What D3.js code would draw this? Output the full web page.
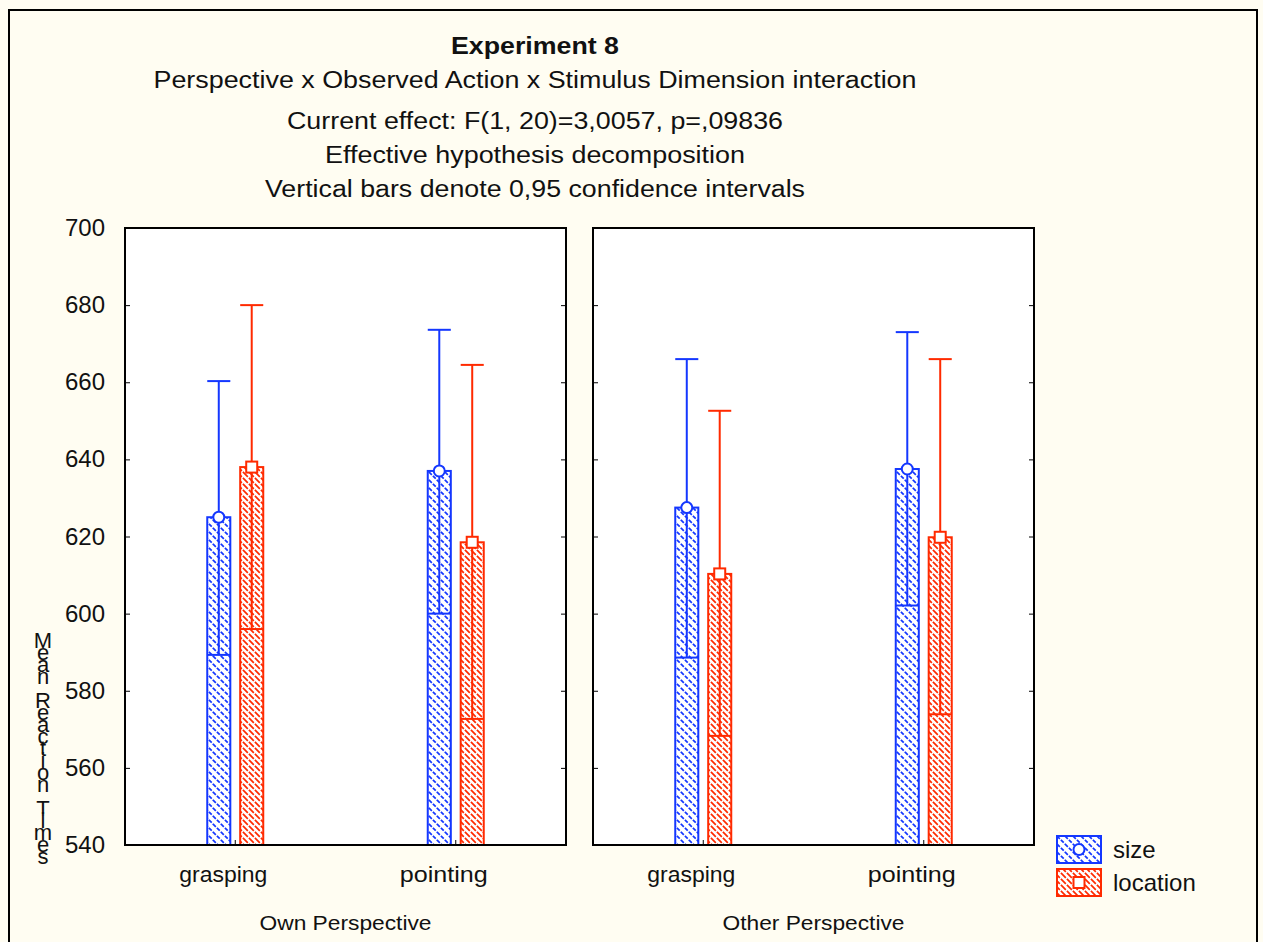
<!DOCTYPE html>
<html>
<head>
<meta charset="utf-8">
<script src="https://cdn.jsdelivr.net/npm/d3@7"></script>
<style>
  body { margin: 0; background: #fffdf2; }
  text { font-family: "Liberation Sans", Arial, sans-serif; fill: #111; }
</style>
</head>
<body>
<svg id="chart"></svg>
<script>
// panels, groups and series
const perspectives = ["Own Perspective", "Other Perspective"];
const actions = ["grasping", "pointing"];
const dimensions = ["size", "location"];

// values per cell, order: own-grasping, own-pointing, other-grasping, other-pointing
const sizeMean = [625.0, 637.0, 627.5, 637.5];
const sizeLower = [589.3, 600.0, 588.6, 602.1];
const sizeUpper = [660.3, 673.6, 666.0, 673.0];
const locationMean = [638.0, 618.5, 610.3, 619.8];
const locationLower = [596.0, 572.7, 568.3, 573.9];
const locationUpper = [680.0, 664.5, 652.6, 666.0];

const yTicks = [540, 560, 580, 600, 620, 640, 660, 680, 700];

const titleLines = [
    "Experiment 8",
    "Perspective x Observed Action x Stimulus Dimension interaction",
    "Current effect: F(1, 20)=3,0057, p=,09836",
    "Effective hypothesis decomposition",
    "Vertical bars denote 0,95 confidence intervals"
];
const yTitle = "Mean Reaction Times";

const blue = "#1437ff";
const red = "#ff2a00";
const colors = { size: blue, location: red };

const width = 1263, height = 942;
const svg = d3.select("#chart")
    .attr("width", width)
    .attr("height", height);

// outer frame
svg.append("rect")
    .attr("x", 9).attr("y", 10)
    .attr("width", 1248).attr("height", 960)
    .attr("fill", "#fffdf2")
    .attr("stroke", "#000")
    .attr("stroke-width", 2);

// hatch patterns
const defs = svg.append("defs");
function hatch(id, color, size) {
    const p = defs.append("pattern")
        .attr("id", id)
        .attr("patternUnits", "userSpaceOnUse")
        .attr("width", size).attr("height", size);
    p.append("rect").attr("width", size).attr("height", size).attr("fill", "#fff");
    p.append("path")
        .attr("d", `M0,0 L${size},${size} M${-size},0 L${size},${2 * size} M0,${-size} L${2 * size},${size}`)
        .attr("stroke", color)
        .attr("stroke-width", 1.7)
        .attr("stroke-dasharray", "4,1.5");
}
hatch("hatch-size", blue, 8);
hatch("hatch-location", red, 6);

// titles
const titleY = [54, 88, 129, 163, 197];
const titleW = [168, 763, 496, 420, 540];
svg.append("g").selectAll("text")
    .data(titleLines)
    .enter()
    .append("text")
    .attr("x", 535)
    .attr("y", (d, i) => titleY[i])
    .attr("text-anchor", "middle")
    .attr("font-size", 23)
    .attr("font-weight", (d, i) => i === 0 ? "bold" : "normal")
    .attr("textLength", (d, i) => titleW[i])
    .attr("lengthAdjust", "spacingAndGlyphs")
    .text(d => d);

// scales
const y = d3.scaleLinear().domain([540, 700]).range([845, 228]);

const panelX = d3.scaleBand()
    .domain(perspectives)
    .range([125, 1034])
    .paddingInner(27 / 468);

const groupX = d3.scaleBand()
    .domain(actions)
    .range([0, panelX.bandwidth()]);

const barX = d3.scaleBand()
    .domain(dimensions)
    .range([groupX.bandwidth() / 2 - 28, groupX.bandwidth() / 2 + 28])
    .paddingInner(0.3);

const cells = [];
perspectives.forEach((p, pi) => {
    actions.forEach((a, ai) => {
        const k = pi * 2 + ai;
        cells.push({ perspective: p, action: a, dimension: "size",
            mean: sizeMean[k], lower: sizeLower[k], upper: sizeUpper[k] });
        cells.push({ perspective: p, action: a, dimension: "location",
            mean: locationMean[k], lower: locationLower[k], upper: locationUpper[k] });
    });
});

// y tick labels (left only)
svg.append("g").selectAll("text")
    .data(yTicks)
    .enter()
    .append("text")
    .attr("x", 105)
    .attr("y", d => y(d) + 8)
    .attr("text-anchor", "end")
    .attr("font-size", 24)
    .text(d => d);

// y title, letters stacked upright and squeezed together
svg.append("text")
    .attr("x", 43)
    .attr("y", 628)
    .attr("font-size", 22)
    .style("writing-mode", "vertical-rl")
    .style("text-orientation", "upright")
    .style("letter-spacing", "-13px")
    .text(yTitle);

perspectives.forEach(p => {
    const g = svg.append("g")
        .attr("transform", `translate(${panelX(p)},0)`);
    const w = panelX.bandwidth();

    g.append("rect")
        .attr("x", 0).attr("y", y(700))
        .attr("width", w).attr("height", y(540) - y(700))
        .attr("fill", "#fff");

    // inward ticks on both sides
    g.append("g")
        .call(d3.axisRight(y).tickValues(yTicks).tickSize(5).tickFormat(""))
        .call(s => s.select(".domain").remove());
    g.append("g")
        .attr("transform", `translate(${w},0)`)
        .call(d3.axisLeft(y).tickValues(yTicks).tickSize(5).tickFormat(""))
        .call(s => s.select(".domain").remove());
    g.append("g")
        .attr("transform", `translate(0,${y(540)})`)
        .call(d3.axisTop(groupX).tickSize(5).tickFormat(""))
        .call(s => s.select(".domain").remove());

    // category labels
    g.selectAll(".cat")
        .data(actions)
        .enter()
        .append("text")
        .attr("class", "cat")
        .attr("x", d => groupX(d) + groupX.bandwidth() / 2 - 12)
        .attr("y", y(540) + 37)
        .attr("text-anchor", "middle")
        .attr("font-size", 22)
        .attr("textLength", 88)
        .attr("lengthAdjust", "spacingAndGlyphs")
        .text(d => d);

    g.append("text")
        .attr("x", w / 2)
        .attr("y", y(540) + 85)
        .attr("text-anchor", "middle")
        .attr("font-size", 21)
        .attr("textLength", p === "Own Perspective" ? 172 : 182)
        .attr("lengthAdjust", "spacingAndGlyphs")
        .text(p);

    const data = cells.filter(c => c.perspective === p);
    const bx = d => groupX(d.action) + barX(d.dimension);
    const cx = d => bx(d) + barX.bandwidth() / 2;

    // bars
    g.selectAll(".bar")
        .data(data)
        .enter()
        .append("rect")
        .attr("class", "bar")
        .attr("x", bx)
        .attr("y", d => y(d.mean))
        .attr("width", barX.bandwidth())
        .attr("height", d => y(540) - y(d.mean))
        .attr("fill", d => `url(#hatch-${d.dimension})`)
        .attr("stroke", d => colors[d.dimension])
        .attr("stroke-width", 2);

    // error bars
    g.selectAll(".err")
        .data(data)
        .enter()
        .append("line")
        .attr("x1", cx).attr("x2", cx)
        .attr("y1", d => y(d.lower)).attr("y2", d => y(d.upper))
        .attr("stroke", d => colors[d.dimension])
        .attr("stroke-width", 2);
    g.selectAll(".capTop")
        .data(data)
        .enter()
        .append("line")
        .attr("x1", bx).attr("x2", d => bx(d) + barX.bandwidth())
        .attr("y1", d => y(d.upper)).attr("y2", d => y(d.upper))
        .attr("stroke", d => colors[d.dimension])
        .attr("stroke-width", 2);
    g.selectAll(".capBot")
        .data(data)
        .enter()
        .append("line")
        .attr("x1", bx).attr("x2", d => bx(d) + barX.bandwidth())
        .attr("y1", d => y(d.lower)).attr("y2", d => y(d.lower))
        .attr("stroke", d => colors[d.dimension])
        .attr("stroke-width", 2);

    // mean markers
    g.selectAll(".mk-size")
        .data(data.filter(d => d.dimension === "size"))
        .enter()
        .append("circle")
        .attr("cx", cx).attr("cy", d => y(d.mean))
        .attr("r", 5.5)
        .attr("fill", "#fff")
        .attr("stroke", blue)
        .attr("stroke-width", 2);
    g.selectAll(".mk-loc")
        .data(data.filter(d => d.dimension === "location"))
        .enter()
        .append("rect")
        .attr("x", d => cx(d) - 5.5).attr("y", d => y(d.mean) - 5.5)
        .attr("width", 11).attr("height", 11)
        .attr("fill", "#fff")
        .attr("stroke", red)
        .attr("stroke-width", 2);

    // panel frame
    g.append("rect")
        .attr("x", 0).attr("y", y(700))
        .attr("width", w).attr("height", y(540) - y(700))
        .attr("fill", "none")
        .attr("stroke", "#000")
        .attr("stroke-width", 2);
});

// legend
const legend = svg.append("g").attr("transform", "translate(1057,836)");
dimensions.forEach((d, i) => {
    const row = legend.append("g").attr("transform", `translate(0,${i * 33})`);
    row.append("rect")
        .attr("width", 44).attr("height", 27)
        .attr("fill", `url(#hatch-${d})`)
        .attr("stroke", colors[d])
        .attr("stroke-width", 2);
    if (d === "size") {
        row.append("circle").attr("cx", 22).attr("cy", 13.5).attr("r", 5.5)
            .attr("fill", "#fff").attr("stroke", blue).attr("stroke-width", 2);
    } else {
        row.append("rect").attr("x", 16.5).attr("y", 8).attr("width", 11).attr("height", 11)
            .attr("fill", "#fff").attr("stroke", red).attr("stroke-width", 2);
    }
    row.append("text")
        .attr("x", 56).attr("y", 22)
        .attr("font-size", 24)
        .text(d);
});
</script>
</body>
</html>
